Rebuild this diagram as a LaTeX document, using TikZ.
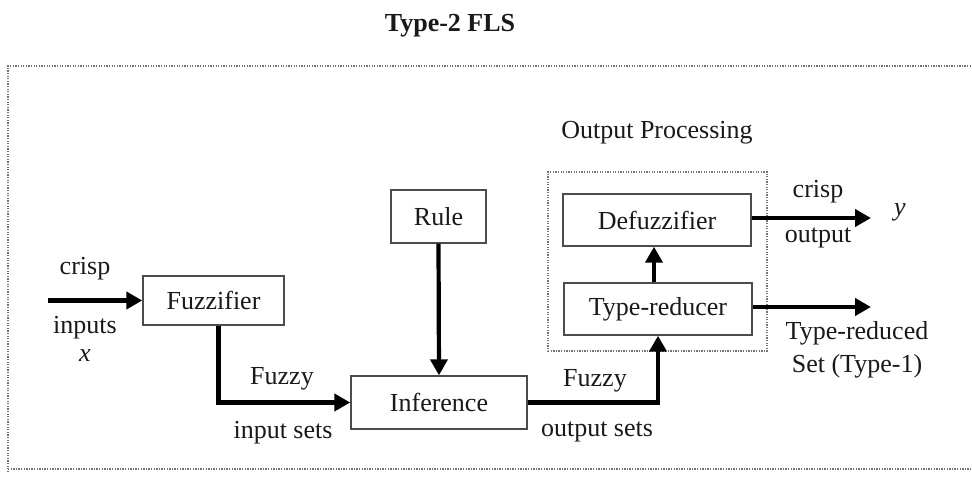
\documentclass[tikz,border=0pt]{standalone}
\usepackage{fontspec}
\setmainfont{Liberation Serif}
\usetikzlibrary{arrows.meta}
\begin{document}
\begin{tikzpicture}[x=1pt,y=-1pt,
  every node/.style={font=\fontsize{26}{30}\selectfont, text=black!90},
  block/.style={draw=black!70, line width=1.4pt, fill=white, inner sep=0pt},
  flow/.style={line width=4.2pt, -{Triangle[length=16pt,width=17pt]}},
  frame/.style={draw=black!55, line width=1.2pt, dash pattern=on 1.3pt off 1.3pt},
  lbl/.style={inner sep=0pt, align=center}]
  \useasboundingbox (0,0) rectangle (972,477);

  % outer system frame (runs past the right edge)
  \draw[frame] (8,472) -- (8,66) -- (985,66);
  \draw[frame] (8,469) -- (985,469);

  \node[lbl, font=\fontsize{26}{30}\selectfont\bfseries] (title) at (450,26) {Type-2 FLS};

  % output processing group
  \node[frame, minimum width=219pt, minimum height=179pt, inner sep=0pt] (opbox) at (657.5,261.5) {};
  \node[lbl] (optitle) at (657,133) {Output Processing};

  % blocks
  \node[block, minimum width=141pt, minimum height=49pt] (fuzz) at (213.5,300.5) {Fuzzifier};
  \node[block, minimum width=176pt, minimum height=53pt] (inf) at (439,402.5) {Inference};
  \node[block, minimum width=95pt, minimum height=53pt] (rule) at (438.5,216.5) {Rule};
  \node[block, minimum width=188pt, minimum height=52pt] (defuzz) at (657,220) {Defuzzifier};
  \node[block, minimum width=188pt, minimum height=52pt] (tr) at (658,309) {Type-reducer};

  % free ends
  \coordinate (xin) at (48,300.5);
  \coordinate (yout) at (871,218);
  \coordinate (trout) at (871,307);

  % connectors
  \draw[flow] (xin) -- (fuzz.west);
  \draw[flow] ([xshift=5pt]fuzz.south) |- (inf.west);
  \draw[flow] (rule.south) -- (inf.north);
  \draw[flow] (inf.east) -| (tr.south);
  \draw[flow] ([xshift=-4pt]tr.north) -- ([xshift=-3pt]defuzz.south);
  \draw[flow] (defuzz.east |- yout) -- (yout);
  \draw[flow] (tr.east |- trout) -- (trout);

  % labels
  \node[lbl] (l1) at (85,269) {crisp};
  \node[lbl] (l2) at (85,328) {inputs};
  \node[lbl] (l3) at (85,356) {\itshape x};
  \node[lbl] (l4) at (282,379) {Fuzzy};
  \node[lbl] (l5) at (283,433) {input sets};
  \node[lbl] (l6) at (595,381) {Fuzzy};
  \node[lbl] (l7) at (597,432) {output sets};
  \node[lbl] (l8) at (818,192) {crisp};
  \node[lbl] (l9) at (818,238) {output};
  \node[lbl] (l10) at (900,212) {\itshape y};
  \node[lbl] (l11) at (857,333) {Type-reduced};
  \node[lbl] (l12) at (857,366) {Set (Type-1)};
\end{tikzpicture}
\end{document}
